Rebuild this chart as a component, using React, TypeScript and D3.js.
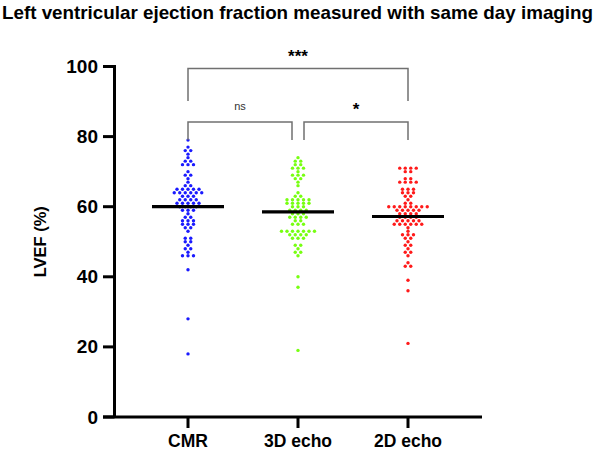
// @ts-nocheck
import * as d3 from "d3";
import React from "react";

const categories = ["CMR", "3D echo", "2D echo"];
const colors = ["#1a1aff", "#77ff11", "#ff1a1a"];

const cmrValues = [
  79, 77, 76, 76, 75, 74, 73, 73, 72, 72, 72, 70, 69, 69, 68, 67, 66, 66,
  65, 65, 65, 65, 65, 64, 64, 64, 64, 64, 64, 63, 63, 63, 62, 62, 62, 62,
  61, 61, 61, 61, 61, 60, 60, 60, 60, 59, 59, 59, 58, 57, 57, 56, 56, 56,
  55, 55, 55, 54, 54, 53, 51, 51, 50, 50, 49, 48, 48, 47, 46, 46, 46, 42,
  28, 18,
];
const echo3dValues = [
  74, 73, 73, 72, 72, 71, 71, 71, 70, 69, 69, 69, 68, 68, 67, 66, 64, 63,
  63, 62, 62, 62, 62, 62, 61, 61, 61, 61, 61, 60, 60, 60, 59, 59, 59, 59,
  58, 58, 58, 57, 57, 57, 57, 56, 56, 55, 55, 55, 53, 53, 53, 53, 53, 53,
  53, 52, 52, 52, 52, 51, 51, 51, 49, 49, 48, 47, 47, 46, 40, 37, 19,
];
const echo2dValues = [
  71, 71, 71, 71, 70, 70, 68, 68, 67, 67, 67, 67, 65, 65, 65, 64, 64, 64,
  63, 63, 62, 61, 61, 60, 60, 60, 60, 60, 60, 60, 60, 59, 59, 59, 59, 59,
  58, 58, 58, 58, 57, 57, 57, 57, 56, 56, 56, 56, 56, 55, 55, 55, 55, 55,
  55, 54, 53, 52, 52, 52, 51, 51, 50, 49, 49, 48, 47, 47, 46, 44, 43, 43,
  39, 36, 21,
];
const groupValues = [cmrValues, echo3dValues, echo2dValues];
// centre lines
const centreValues = [60, 58.5, 57.2];
const yTicks = [0, 20, 40, 60, 80, 100];

const comparisons = [
  { from: 0, to: 2, label: "***", level: 0 },
  { from: 0, to: 1, label: "ns", level: 1 },
  { from: 1, to: 2, label: "*", level: 1 },
];

const W = 597;
const H = 451;
const font = "'Liberation Sans', Arial, sans-serif";

export default function App() {
  const y = d3.scaleLinear().domain([0, 100]).range([417, 66.5]);
  const x = d3.scalePoint().domain(categories).range([188, 408]);
  const axisX = 114.5;
  const dx = 5.5;

  const dots = [];
  groupValues.forEach((vals, gi) => {
    const counts = d3.rollup(vals, (v) => v.length, (d) => d);
    counts.forEach((n, v) => {
      for (let i = 0; i < n; i++) {
        dots.push({
          cx: x(categories[gi]) + (i - (n - 1) / 2) * dx,
          cy: y(v),
          color: colors[gi],
        });
      }
    });
  });

  return (
    <svg
      width={W}
      height={H}
      style={{ position: "absolute", left: 0, top: 0, background: "#fff" }}
      fontFamily={font}
    >
      <text
        x={2}
        y={19}
        fontSize={18.5}
        fontWeight="bold"
        textLength={591}
        lengthAdjust="spacingAndGlyphs"
      >
        Left ventricular ejection fraction measured with same day imaging
      </text>

      {/* axes */}
      <line x1={axisX} x2={axisX} y1={y(100) - 1.5} y2={y(0)} stroke="#000" strokeWidth={3} />
      <line x1={103} x2={482} y1={y(0)} y2={y(0)} stroke="#000" strokeWidth={3} />
      {yTicks.map((t) => (
        <g key={t}>
          <line x1={103} x2={axisX} y1={y(t)} y2={y(t)} stroke="#000" strokeWidth={3} />
          <text x={98} y={y(t) + 6.5} textAnchor="end" fontSize={19} fontWeight="bold">
            {t}
          </text>
        </g>
      ))}
      {categories.map((c) => (
        <g key={c}>
          <line x1={x(c)} x2={x(c)} y1={y(0)} y2={y(0) + 11} stroke="#000" strokeWidth={3} />
          <text x={x(c)} y={447} textAnchor="middle" fontSize={17.5} fontWeight="bold">
            {c}
          </text>
        </g>
      ))}
      <text
        transform={`translate(46,${y(50)}) rotate(-90)`}
        textAnchor="middle"
        fontSize={16.5}
        fontWeight="bold"
      >
        LVEF (%)
      </text>

      {/* points */}
      {dots.map((d, i) => (
        <circle key={i} cx={d.cx} cy={d.cy} r={1.7} fill={d.color} />
      ))}

      {/* centre lines */}
      {centreValues.map((v, i) => (
        <line
          key={i}
          x1={x(categories[i]) - 36}
          x2={x(categories[i]) + 36}
          y1={y(v)}
          y2={y(v)}
          stroke="#000"
          strokeWidth={3.2}
        />
      ))}

      {/* significance brackets */}
      {comparisons.map((c, i) => {
        const top = c.level === 0 ? 68.5 : 122;
        const bottom = c.level === 0 ? 101 : 140;
        const gap = c.level === 0 ? 0 : 6;
        const x1 = x(categories[c.from]) + (c.from === 1 ? gap : 0);
        const x2 = x(categories[c.to]) - (c.to === 1 ? gap : 0);
        const isNs = c.label === "ns";
        return (
          <g key={i}>
            <path
              d={`M${x1},${bottom}V${top}H${x2}V${bottom}`}
              fill="none"
              stroke="#707070"
              strokeWidth={1.5}
            />
            <text
              x={(x1 + x2) / 2}
              y={isNs ? top - 12 : top - 7}
              textAnchor="middle"
              fontSize={isNs ? 11 : 17}
              fontWeight={isNs ? "normal" : "bold"}
              fill={isNs ? "#333" : "#000"}
            >
              {c.label}
            </text>
          </g>
        );
      })}
    </svg>
  );
}
